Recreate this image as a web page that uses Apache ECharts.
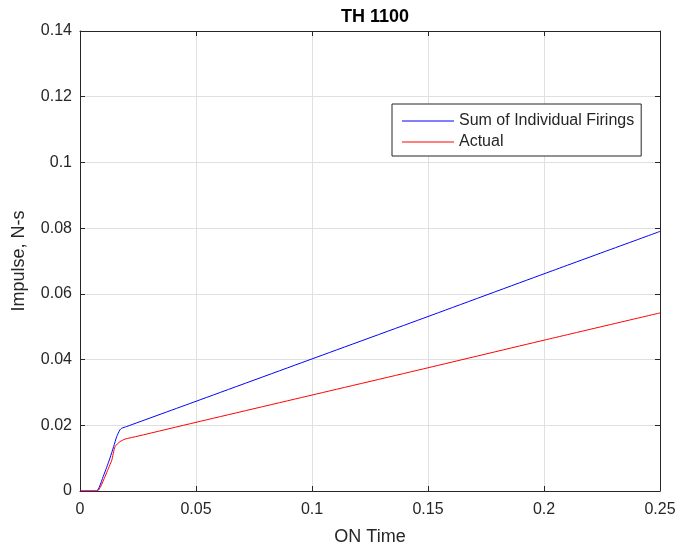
<!DOCTYPE html>
<html>
<head>
<meta charset="utf-8">
<script src="https://cdn.jsdelivr.net/npm/echarts@6/dist/echarts.min.js"></script>
<style>html,body{margin:0;padding:0;background:#fff;}</style>
</head>
<body>
<div id="chart" style="width:678px; height:550px;"></div>
<script>
// values
var sumTime = [0, 0.0072, 0.0085, 0.010, 0.0115, 0.0129, 0.0145, 0.0158, 0.0172, 0.018, 0.020, 0.05, 0.1, 0.15, 0.2, 0.25];
var sumImpulse = [0, 0, 0.0015, 0.0044, 0.0072, 0.010, 0.0135, 0.0165, 0.0186, 0.0191, 0.0196, 0.0273, 0.0402, 0.0531, 0.0661, 0.079];
var actualTime = [0, 0.0075, 0.009, 0.0108, 0.0122, 0.0137, 0.0151, 0.0172, 0.0194, 0.025, 0.05, 0.1, 0.15, 0.2, 0.25];
var actualImpulse = [0, 0, 0.0015, 0.0044, 0.0068, 0.0094, 0.0135, 0.0150, 0.0158, 0.0167, 0.0209, 0.0292, 0.0375, 0.0459, 0.0542];

function pairs(xs, ys) {
    var out = [];
    for (var i = 0; i < xs.length; i++) {
        out.push([xs[i], ys[i]]);
    }
    return out;
}

var font = 'Liberation Sans, Arial, sans-serif';
var dark = '#262626';

// box axes (top / right) only carry inward ticks, like matlab
function boxAxis(min, max, step, pos) {
    return {
        type: 'value', min: min, max: max, interval: step, position: pos,
        axisLine: { show: true, onZero: false, lineStyle: { color: dark } },
        axisTick: { show: true, inside: true, length: 5, lineStyle: { color: dark } },
        axisLabel: { show: false },
        splitLine: { show: false }
    };
}

var mychart = echarts.init(document.getElementById('chart'));
mychart.setOption({
    animation: false,
    textStyle: { fontFamily: font },
    title: {
        text: 'TH 1100',
        left: 370, top: 3, textAlign: 'center',
        textStyle: { fontSize: 18, fontWeight: 'bold', color: '#000', fontFamily: font }
    },
    legend: {
        orient: 'vertical',
        left: 392, top: 104,
        padding: [9, 7, 6, 10],
        icon: 'rect',
        itemWidth: 52, itemHeight: 1, itemGap: 5,
        borderColor: dark, borderWidth: 1,
        backgroundColor: '#fff',
        textStyle: { fontSize: 16, color: dark, fontFamily: font },
        data: ['Sum of Individual Firings', 'Actual']
    },
    grid: { left: 80, right: 18, top: 31, bottom: 59, outerBoundsMode: 'none' },
    xAxis: [{
        type: 'value', min: 0, max: 0.25, interval: 0.05,
        name: 'ON Time', nameLocation: 'middle', nameGap: 37,
        nameTextStyle: { fontSize: 18, color: dark },
        axisLine: { show: true, onZero: false, lineStyle: { color: dark } },
        axisTick: { show: true, inside: true, length: 5, lineStyle: { color: dark } },
        axisLabel: { fontSize: 16, color: dark, margin: 11 },
        splitLine: { show: true, lineStyle: { color: '#e0e0e0' } }
    }, boxAxis(0, 0.25, 0.05, 'top')],
    yAxis: [{
        type: 'value', min: 0, max: 0.14, interval: 0.02,
        name: 'Impulse, N-s', nameLocation: 'middle', nameGap: 52,
        nameTextStyle: { fontSize: 18, color: dark },
        axisLine: { show: true, onZero: false, lineStyle: { color: dark } },
        axisTick: { show: true, inside: true, length: 5, lineStyle: { color: dark } },
        axisLabel: { fontSize: 16, color: dark, margin: 8 },
        splitLine: { show: true, lineStyle: { color: '#e0e0e0' } }
    }, boxAxis(0, 0.14, 0.02, 'right')],
    series: [{
        name: 'Sum of Individual Firings',
        type: 'line',
        symbol: 'none',
        smooth: 0.2,
        lineStyle: { color: '#0000ff', width: 1 },
        itemStyle: { color: '#0000ff' },
        data: pairs(sumTime, sumImpulse)
    }, {
        name: 'Actual',
        type: 'line',
        symbol: 'none',
        smooth: 0.2,
        lineStyle: { color: '#ff0000', width: 1 },
        itemStyle: { color: '#ff0000' },
        data: pairs(actualTime, actualImpulse)
    }]
});
</script>
</body>
</html>
